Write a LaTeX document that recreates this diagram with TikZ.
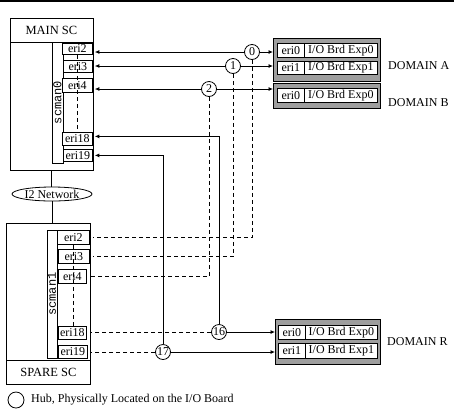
\documentclass[tikz,border=0pt]{standalone}
\usepackage{fontspec}
\setmainfont{Liberation Serif}
\setmonofont{Liberation Mono}
\usetikzlibrary{arrows.meta,calc,shapes.geometric}
\begin{document}
\begin{tikzpicture}[x=1pt,y=-1pt,
  box/.style={draw,line width=0.8pt,inner sep=0pt,anchor=north west},
  port/.style={box,fill=white,font=\fontsize{12}{12}\selectfont},
  frame/.style={box,fill=black!38},
  strip/.style={draw,line width=0.8pt,inner sep=0pt,rotate=90,font=\ttfamily\fontsize{12}{12}\selectfont},
  hub/.style={circle,draw,line width=0.8pt,minimum size=15pt,inner sep=0pt,fill=white,font=\fontsize{12}{12}\selectfont},
  lbl/.style={anchor=west,inner sep=0pt,font=\fontsize{12}{12}\selectfont},
  sol/.style={line width=0.8pt},
  arr/.style={sol,-{Latex[length=4.5pt,width=4pt]}},
  dsh/.style={line width=0.8pt,dash pattern=on 4pt off 3pt}]
\useasboundingbox (0,0) rectangle (454,416);
\draw[line width=2pt] (0,1) -- (454,1);

% MAIN SC
\node[box,minimum width=83pt,minimum height=152pt] (MSC) at (9.5,18) {};
\node[box,minimum width=83pt,minimum height=24pt,font=\fontsize{12.5}{13}\selectfont] (MSChead) at (9.5,18) {MAIN SC};
\node[strip,minimum width=121pt,minimum height=11pt] (sc0) at (57.5,102.5) {scman0};
\node[port,minimum width=30pt,minimum height=11pt] (m2) at (62,43) {eri2};
\node[port,minimum width=29pt,minimum height=12pt] (m3) at (63,60) {eri3};
\node[port,minimum width=30pt,minimum height=14pt] (m4) at (62,78) {eri4};
\node[port,minimum width=30pt,minimum height=13pt] (m18) at (62,132) {eri18};
\node[port,minimum width=29pt,minimum height=12pt] (m19) at (63,149) {eri19};
\draw[dsh] (m2.south) -- (m18.north);

% I2 network
\node[ellipse,draw,line width=0.8pt,minimum width=80pt,minimum height=14pt,inner sep=0pt,font=\fontsize{12}{12}\selectfont] (net) at (52,194) {I2 Network};
\draw[sol] (MSC.south) -- (MSC.south |- net.north);
\draw[sol] (net.south) -- (net.south |- 0,223);

% SPARE SC
\node[box,minimum width=84pt,minimum height=161pt] (SSC) at (6,223) {};
\node[box,minimum width=84pt,minimum height=24pt,font=\fontsize{12.5}{13}\selectfont] (SSCfoot) at (6,360) {SPARE SC};
\node[strip,minimum width=128pt,minimum height=10pt] (sc1) at (52,294) {scman1};
\node[port,minimum width=32pt,minimum height=14pt] (s2) at (57,230) {eri2};
\node[port,minimum width=31pt,minimum height=14pt] (s3) at (58,249) {eri3};
\node[port,minimum width=28pt,minimum height=14pt] (s4) at (58,269) {eri4};
\node[port,minimum width=28pt,minimum height=13pt] (s18) at (58,326) {eri18};
\node[port,minimum width=29pt,minimum height=13pt] (s19) at (58,345) {eri19};
\draw[dsh] (s2.south) -- (s2.south |- s18.north);

% Domains
\node[frame,minimum width=107pt,minimum height=43pt] (DA) at (273,38) {};
\node[port,minimum width=27pt,minimum height=14pt] (a0p) at (277,43) {eri0};
\node[port,minimum width=73pt,minimum height=14pt] (a0t) at (304,43) {I/O Brd Exp0};
\node[port,minimum width=27pt,minimum height=13pt] (a1p) at (277,61) {eri1};
\node[port,minimum width=73pt,minimum height=13pt] (a1t) at (304,61) {I/O Brd Exp1};
\node[frame,minimum width=107pt,minimum height=25pt] (DB) at (273,83) {};
\node[port,minimum width=27pt,minimum height=14pt] (b0p) at (277,88) {eri0};
\node[port,minimum width=73pt,minimum height=14pt] (b0t) at (304,88) {I/O Brd Exp0};
\node[frame,minimum width=105pt,minimum height=45pt] (DR) at (275,319) {};
\node[port,minimum width=27pt,minimum height=14pt] (r0p) at (278,325) {eri0};
\node[port,minimum width=72pt,minimum height=14pt] (r0t) at (305,325) {I/O Brd Exp0};
\node[port,minimum width=27pt,minimum height=15pt] (r1p) at (278,343) {eri1};
\node[port,minimum width=72pt,minimum height=15pt] (r1t) at (305,343) {I/O Brd Exp1};
\node[lbl] (la) at (388,66) {DOMAIN A};
\node[lbl] (lb) at (388,103) {DOMAIN B};
\node[lbl] (lr) at (387,342) {DOMAIN R};
\draw[dsh] ($(DB.south)+(9.5,0)$) -- ($(DB.south)+(9.5,0)$ |- DR.north);

% Hubs
\node[hub] (h0) at (252,52) {0};
\node[hub] (h1) at (233,66) {1};
\node[hub] (h2) at (209,89) {2};
\node[hub] (h16) at (219,332) {16};
\node[hub] (h17) at (163,352) {17};

% hub connections
\draw[arr,shorten >=2pt] (h0.west) -- (h0.west -| m2.east);
\draw[arr] (h0.east) -- (h0.east -| DA.west);
\draw[dsh,shorten >=3pt] (h0.south) |- (s2.east);
\draw[arr,shorten >=2pt] (h1.west) -- (h1.west -| m3.east);
\draw[arr] (h1.east) -- (h1.east -| DA.west);
\draw[dsh,shorten >=3pt] (h1.south) |- (s3.east);
\draw[arr,shorten >=2pt] (h2.west) -- (h2.west -| m4.east);
\draw[arr] (h2.east) -- (h2.east -| DB.west);
\draw[dsh,shorten >=3pt] (h2.south) |- (s4.east);
\draw[arr,shorten >=2pt] (h16.north) |- ($(m18.east)+(0,-2.5)$);
\draw[dsh,shorten >=3pt] (h16.west) -- (h16.west -| s18.east);
\draw[arr] (h16.east) -- (h16.east -| DR.west);
\draw[arr,shorten >=2pt] (h17.north) |- (m19.east);
\draw[dsh,shorten >=3pt] (h17.west) -- (h17.west -| s19.east);
\draw[arr] (h17.east) -- (h17.east -| DR.west);

% Legend
\node[hub,minimum size=16pt] (leg) at (16,400) {};
\node[lbl] (legt) at (31,400) {Hub, Physically Located on the I/O Board};
\end{tikzpicture}
\end{document}
